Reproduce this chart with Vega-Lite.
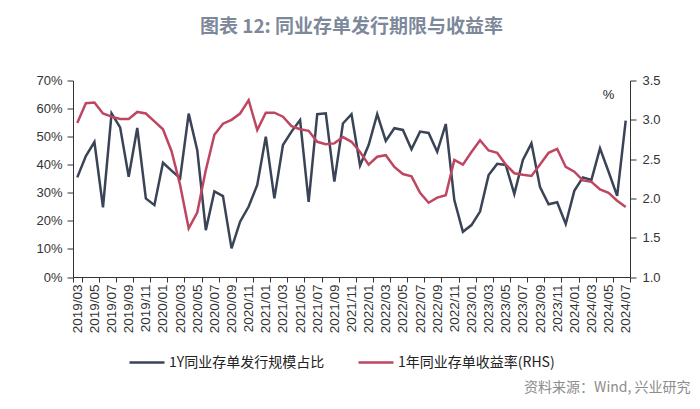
{
  "$schema": "https://vega.github.io/schema/vega-lite/v6.json",
  "autosize": "none",
  "width": 557,
  "height": 196.5,
  "padding": {"left": 73, "top": 80.5, "right": 70, "bottom": 132},
  "background": "white",
  "config": {"view": {"stroke": null}, "font": "Liberation Sans"},
  "title": {"text": "图表 12: 同业存单发行期限与收益率", "font": "Noto Sans CJK SC", "fontSize": 19, "fontWeight": "bold", "color": "#7d889a", "anchor": "middle", "offset": 38},
  "data": {"values": [
    {"month": "2019/03", "share": 35.5, "yield": 2.96},
    {"month": "2019/04", "share": 43.1, "yield": 3.21},
    {"month": "2019/05", "share": 48.1, "yield": 3.22},
    {"month": "2019/06", "share": 24.8, "yield": 3.08},
    {"month": "2019/07", "share": 58.3, "yield": 3.04},
    {"month": "2019/08", "share": 53.3, "yield": 3.01},
    {"month": "2019/09", "share": 35.7, "yield": 3.01},
    {"month": "2019/10", "share": 53.1, "yield": 3.10},
    {"month": "2019/11", "share": 28.0, "yield": 3.08},
    {"month": "2019/12", "share": 25.6, "yield": 2.98},
    {"month": "2020/01", "share": 40.7, "yield": 2.88},
    {"month": "2020/02", "share": 37.9, "yield": 2.60},
    {"month": "2020/03", "share": 35.2, "yield": 2.17},
    {"month": "2020/04", "share": 58.2, "yield": 1.62},
    {"month": "2020/05", "share": 45.2, "yield": 1.82},
    {"month": "2020/06", "share": 16.7, "yield": 2.36},
    {"month": "2020/07", "share": 30.5, "yield": 2.81},
    {"month": "2020/08", "share": 28.8, "yield": 2.95},
    {"month": "2020/09", "share": 10.2, "yield": 3.00},
    {"month": "2020/10", "share": 19.7, "yield": 3.08},
    {"month": "2020/11", "share": 25.1, "yield": 3.25},
    {"month": "2020/12", "share": 32.8, "yield": 2.87},
    {"month": "2021/01", "share": 50.0, "yield": 3.09},
    {"month": "2021/02", "share": 28.0, "yield": 3.09},
    {"month": "2021/03", "share": 47.0, "yield": 3.04},
    {"month": "2021/04", "share": 51.8, "yield": 2.92},
    {"month": "2021/05", "share": 55.9, "yield": 2.88},
    {"month": "2021/06", "share": 26.8, "yield": 2.86},
    {"month": "2021/07", "share": 58.0, "yield": 2.72},
    {"month": "2021/08", "share": 58.3, "yield": 2.69},
    {"month": "2021/09", "share": 34.0, "yield": 2.70},
    {"month": "2021/10", "share": 54.7, "yield": 2.78},
    {"month": "2021/11", "share": 58.0, "yield": 2.72},
    {"month": "2021/12", "share": 39.7, "yield": 2.59},
    {"month": "2022/01", "share": 47.0, "yield": 2.43},
    {"month": "2022/02", "share": 58.0, "yield": 2.53},
    {"month": "2022/03", "share": 48.5, "yield": 2.55},
    {"month": "2022/04", "share": 53.0, "yield": 2.40},
    {"month": "2022/05", "share": 52.4, "yield": 2.31},
    {"month": "2022/06", "share": 45.5, "yield": 2.28},
    {"month": "2022/07", "share": 51.8, "yield": 2.07},
    {"month": "2022/08", "share": 51.3, "yield": 1.945},
    {"month": "2022/09", "share": 44.6, "yield": 2.01},
    {"month": "2022/10", "share": 54.5, "yield": 2.04},
    {"month": "2022/11", "share": 27.4, "yield": 2.49},
    {"month": "2022/12", "share": 16.1, "yield": 2.43},
    {"month": "2023/01", "share": 18.5, "yield": 2.59},
    {"month": "2023/02", "share": 23.3, "yield": 2.74},
    {"month": "2023/03", "share": 36.3, "yield": 2.61},
    {"month": "2023/04", "share": 40.3, "yield": 2.58},
    {"month": "2023/05", "share": 39.9, "yield": 2.43},
    {"month": "2023/06", "share": 29.6, "yield": 2.32},
    {"month": "2023/07", "share": 41.7, "yield": 2.30},
    {"month": "2023/08", "share": 47.6, "yield": 2.285},
    {"month": "2023/09", "share": 32.0, "yield": 2.43},
    {"month": "2023/10", "share": 25.9, "yield": 2.58},
    {"month": "2023/11", "share": 26.6, "yield": 2.63},
    {"month": "2023/12", "share": 18.9, "yield": 2.40},
    {"month": "2024/01", "share": 30.7, "yield": 2.34},
    {"month": "2024/02", "share": 35.5, "yield": 2.23},
    {"month": "2024/03", "share": 34.6, "yield": 2.21},
    {"month": "2024/04", "share": 45.8, "yield": 2.115},
    {"month": "2024/05", "share": 37.5, "yield": 2.07},
    {"month": "2024/06", "share": 28.9, "yield": 1.97},
    {"month": "2024/07", "share": 55.7, "yield": 1.89}
  ]},
  "encoding": {
    "x": {
      "field": "month", "type": "ordinal", "sort": null, "bandPosition": 0.5,
      "scale": {"type": "band", "paddingInner": 0, "paddingOuter": 0},
      "axis": {
        "values": ["2019/03","2019/05","2019/07","2019/09","2019/11","2020/01","2020/03","2020/05","2020/07","2020/09","2020/11","2021/01","2021/03","2021/05","2021/07","2021/09","2021/11","2022/01","2022/03","2022/05","2022/07","2022/09","2022/11","2023/01","2023/03","2023/05","2023/07","2023/09","2023/11","2024/01","2024/03","2024/05","2024/07"],
        "tickBand": "extent",
        "labelAngle": 270,
        "labelFontSize": 13.5,
        "labelColor": "#333333",
        "labelPadding": 2,
        "tickSize": 5,
        "tickColor": "#333333",
        "domainColor": "#333333",
        "grid": false,
        "title": "资料来源：Wind, 兴业研究",
        "titleX": 617,
        "titleY": 114,
        "titleAlign": "right",
        "titleAnchor": null,
        "titleBaseline": "alphabetic",
        "titleColor": "#8c8c8c",
        "titleFont": "Noto Sans CJK SC",
        "titleFontSize": 14,
        "titleFontWeight": "normal"
      }
    }
  },
  "layer": [
    {
      "mark": {"type": "line", "strokeWidth": 2.5},
      "encoding": {
        "y": {
          "field": "share", "type": "quantitative",
          "scale": {"domain": [0, 70], "nice": false, "zero": false},
          "axis": {
            "values": [0, 10, 20, 30, 40, 50, 60, 70],
            "labelExpr": "datum.value + '%'",
            "labelFontSize": 13,
            "labelColor": "#333333",
            "labelPadding": 5,
            "tickSize": 6,
            "tickColor": "#333333",
            "domainColor": "#333333",
            "grid": false,
            "title": null
          }
        },
        "color": {
          "datum": "1Y同业存单发行规模占比", "type": "nominal",
          "scale": {"domain": ["1Y同业存单发行规模占比", "1年同业存单收益率(RHS)"], "range": ["#3a4456", "#bf4660"]},
          "legend": {
            "orient": "none",
            "legendX": 55,
            "legendY": 263,
            "direction": "horizontal",
            "title": null,
            "symbolType": "stroke",
            "symbolSize": 1225,
            "symbolStrokeWidth": 2.5,
            "labelFont": "Noto Sans CJK SC",
            "labelFontSize": 14,
            "labelColor": "#222222",
            "labelOffset": 3,
            "columnPadding": 28
          }
        }
      }
    },
    {
      "mark": {"type": "line", "strokeWidth": 2.5},
      "encoding": {
        "y": {
          "field": "yield", "type": "quantitative",
          "scale": {"domain": [1, 3.5], "nice": false, "zero": false},
          "axis": {
            "orient": "right",
            "values": [1, 1.5, 2, 2.5, 3, 3.5],
            "format": ".1f",
            "labelFontSize": 13,
            "labelColor": "#333333",
            "labelPadding": 6,
            "tickSize": 6,
            "tickColor": "#333333",
            "domainColor": "#333333",
            "grid": false,
            "title": "%",
            "titleAngle": 0,
            "titleX": -22,
            "titleY": 14,
            "titleAlign": "center",
            "titleBaseline": "middle",
            "titleFontSize": 13,
            "titleFontWeight": "normal",
            "titleColor": "#222222"
          }
        },
        "color": {"datum": "1年同业存单收益率(RHS)", "type": "nominal"}
      }
    }
  ],
  "resolve": {"scale": {"y": "independent"}}
}
